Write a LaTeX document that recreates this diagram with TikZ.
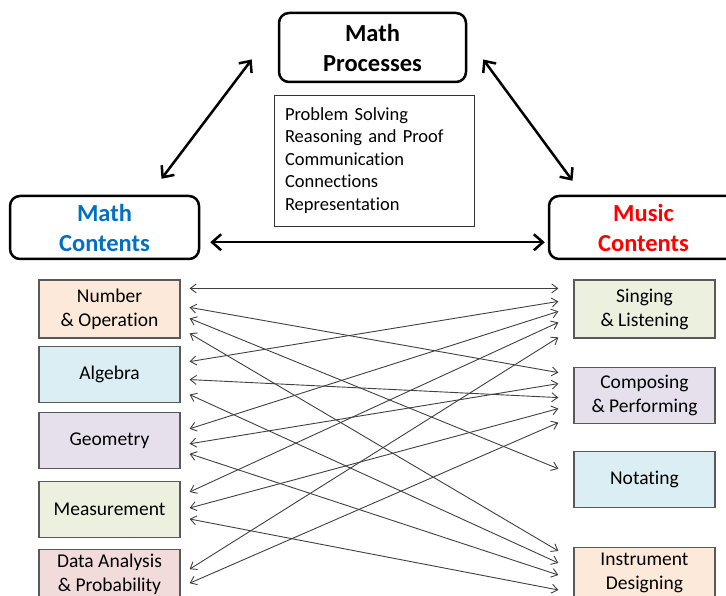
\documentclass[tikz,border=0pt]{standalone}
\usepackage{fontspec}
\setmainfont{Carlito}[Ligatures=NoCommon]
\usepackage{xcolor}
\usetikzlibrary{positioning,arrows.meta,calc}
\definecolor{numfill}{RGB}{253,233,217}
\definecolor{algfill}{RGB}{219,238,244}
\definecolor{geofill}{RGB}{229,224,236}
\definecolor{meafill}{RGB}{235,241,222}
\definecolor{datfill}{RGB}{242,220,219}
\definecolor{mathblue}{RGB}{0,112,192}
\definecolor{edgegray}{RGB}{89,89,89}
\definecolor{linkgray}{RGB}{64,64,64}
\tikzset{
  bigbox/.style={rounded corners=10pt, draw=black, line width=2.5pt, fill=white, align=center, minimum width=189pt, minimum height=63pt, inner sep=0pt, font=\fontsize{24.5}{30}\selectfont\bfseries},
  listbox/.style={draw=black!80, line width=0.8pt, align=left, text width=178pt, minimum width=200pt, minimum height=131pt, inner sep=0pt, font=\fontsize{18.5}{22.5}\selectfont},
  topic/.style={draw=edgegray, line width=1.2pt, align=center, minimum width=141pt, minimum height=56pt, inner sep=0pt, font=\fontsize{19.5}{24}\selectfont},
  arr/.style={{Straight Barb[length=9pt,width=16pt]}-{Straight Barb[length=9pt,width=16pt]}, line width=2.5pt},
  link/.style={{Straight Barb[length=6pt,width=9pt]}-{Straight Barb[length=6pt,width=9pt]}, line width=0.9pt, draw=linkgray},
}

\begin{document}
\begin{tikzpicture}[x=1pt, y=-1pt]
  \useasboundingbox (0,0) rectangle (726,596);
  \clip (0,0) rectangle (726,596);
  \node[bigbox, minimum width=187pt, minimum height=69pt] (proc) at (372.5,47.5) {Math\\Processes};
  \node[listbox] (plist) at (374,160.5) {Problem Solving\\Reasoning and Proof\\Communication\\Connections\\Representation};
  \node[bigbox, text=mathblue] (mc) at (104.5,227.5) {Math\\Contents};
  \node[bigbox, text=red] (mu) at (643.5,227.5) {Music\\Contents};
  \draw[arr] ($(mc.south east)+(10,-18)$) -- ($(mu.south west)+(-3,-18)$);
  \draw[arr] ($(mc.north)+(57,-16)$) -- ($(proc.west)+(-26,12)$);
  \draw[arr] ($(proc.east)+(16,12)$) -- ($(mu.north)+(-71,-14)$);

  \node[topic, fill=numfill, minimum height=58pt] (num) at (109.5,309) {Number\\\& Operation};
  \node[topic, fill=algfill, below=7pt of num] (alg) {Algebra};
  \node[topic, fill=geofill, below=9pt of alg] (geo) {Geometry};
  \node[topic, fill=meafill, below=12pt of geo] (mea) {Measurement};
  \node[topic, fill=datfill, minimum height=48pt, below=11pt of mea] (dat) {Data Analysis\\\& Probability};

  \node[topic, fill=meafill, minimum height=58pt] (sing) at (644.5,309) {Singing\\\& Listening};
  \node[topic, fill=geofill, below=28pt of sing] (comp) {Composing\\\& Performing};
  \node[topic, fill=algfill, below=27pt of comp] (nota) {Notating};
  \node[topic, fill=numfill, minimum height=50pt, below=39pt of nota] (inst) {Instrument\\Designing};

  \foreach \a/\ay/\b/\by in {num/9/sing/9, num/28/comp/6, num/39/nota/18, num/54/inst/4,
      alg/16/sing/22, alg/34/comp/31, alg/49/inst/16,
      geo/17/sing/32, geo/32/comp/17, geo/42/inst/28,
      mea/11/sing/43, mea/27/comp/42, mea/38/inst/43,
      dat/20/sing/58, dat/34/comp/56}
    \draw[link] ($(\a.north east)+(9,\ay)$) -- ($(\b.north west)+(-15,\by)$);
\end{tikzpicture}
\end{document}
